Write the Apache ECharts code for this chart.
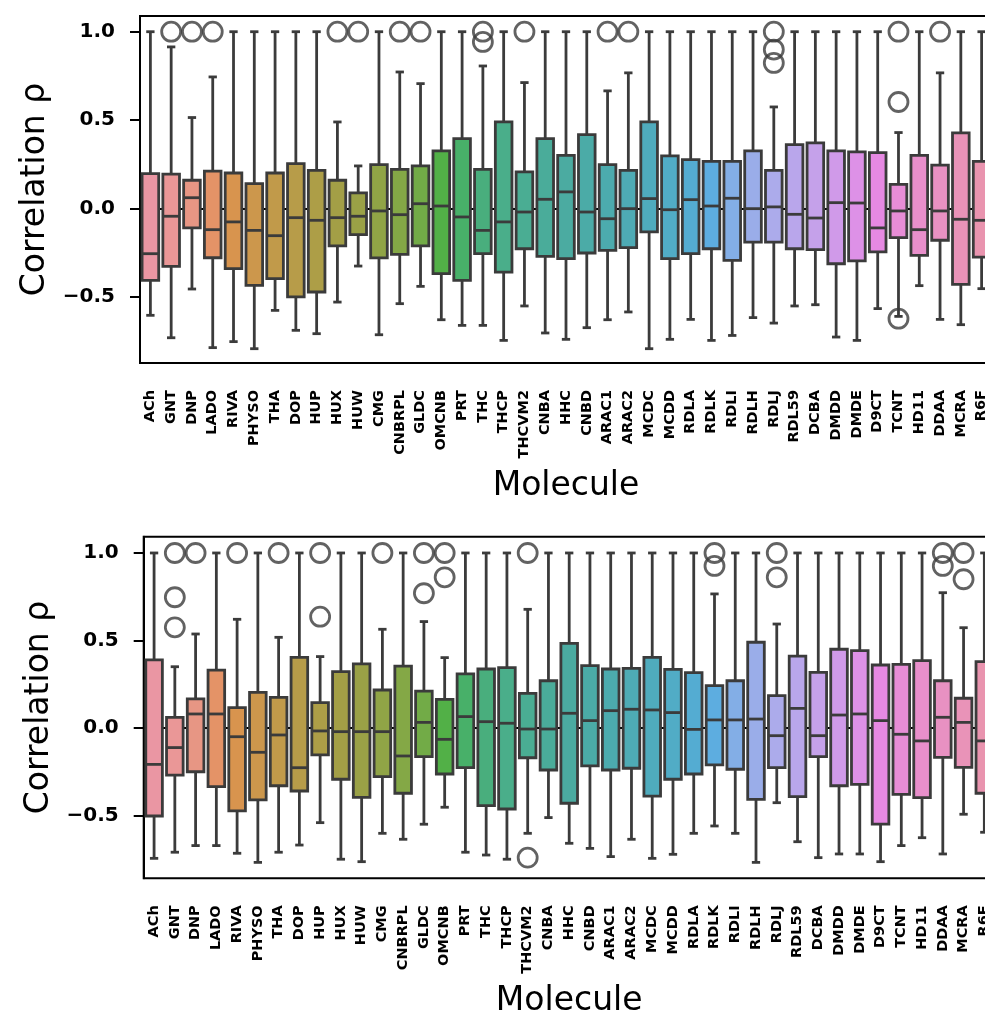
<!DOCTYPE html>
<html>
<head>
<meta charset="utf-8">
<script src="https://cdn.jsdelivr.net/npm/echarts@6/dist/echarts.min.js"></script>
<style>
  html, body { margin: 0; padding: 0; overflow: hidden; background: #fff; }
  #chart { width: 1000px; height: 1010px; }
</style>
</head>
<body>
<div id="chart"></div>
<script>
// categories (same order in both panels)
const molecules = ['ACh', 'GNT', 'DNP', 'LADO', 'RIVA', 'PHYSO', 'THA', 'DOP', 'HUP', 'HUX', 'HUW', 'CMG',
  'CNBRPL', 'GLDC', 'OMCNB', 'PRT', 'THC', 'THCP', 'THCVM2', 'CNBA', 'HHC', 'CNBD', 'ARAC1', 'ARAC2',
  'MCDC', 'MCDD', 'RDLA', 'RDLK', 'RDLI', 'RDLH', 'RDLJ', 'RDL59', 'DCBA', 'DMDD', 'DMDE', 'D9CT',
  'TCNT', 'HD11', 'DDAA', 'MCRA', 'R6F'];
const yTicks = [-0.5, 0.0, 0.5, 1.0];

// top panel: whisker low, Q1, median, Q3, whisker high, outliers
const topLow = [-0.606, -0.733, -0.457, -0.789, -0.755, -0.795, -0.578, -0.691, -0.710, -0.531, -0.327, -0.716, -0.540, -0.442, -0.631, -0.663, -0.663, -0.748, -0.553, -0.706, -0.742, -0.676, -0.631, -0.587, -0.795, -0.742, -0.629, -0.748, -0.720, -0.619, -0.650, -0.553, -0.546, -0.729, -0.748, -0.568, -0.612, -0.438, -0.629, -0.659, -0.455];
const topQ1 = [-0.408, -0.329, -0.111, -0.280, -0.342, -0.436, -0.398, -0.502, -0.474, -0.213, -0.149, -0.281, -0.261, -0.213, -0.370, -0.408, -0.257, -0.361, -0.229, -0.272, -0.285, -0.253, -0.238, -0.223, -0.134, -0.285, -0.257, -0.229, -0.295, -0.191, -0.191, -0.229, -0.234, -0.314, -0.298, -0.247, -0.166, -0.266, -0.181, -0.431, -0.276];
const topMed = [-0.257, -0.045, 0.060, -0.121, -0.077, -0.125, -0.155, -0.053, -0.068, -0.053, -0.045, -0.015, -0.036, 0.026, 0.013, -0.049, -0.125, -0.077, -0.021, 0.051, 0.093, -0.021, -0.059, -0.002, 0.055, -0.008, 0.049, 0.013, 0.057, -0.002, 0.008, -0.034, -0.055, 0.032, 0.030, -0.111, -0.015, -0.121, -0.015, -0.062, -0.068];
const topQ3 = [0.196, 0.193, 0.159, 0.210, 0.200, 0.140, 0.200, 0.253, 0.215, 0.159, 0.087, 0.247, 0.221, 0.240, 0.325, 0.395, 0.221, 0.489, 0.206, 0.395, 0.300, 0.417, 0.247, 0.215, 0.489, 0.297, 0.276, 0.266, 0.266, 0.325, 0.215, 0.361, 0.370, 0.325, 0.319, 0.315, 0.136, 0.300, 0.244, 0.427, 0.266];
const topHigh = [1.0, 0.914, 0.514, 0.744, 1.0, 1.0, 1.0, 1.0, 1.0, 0.489, 0.240, 1.0, 0.772, 0.706, 1.0, 1.0, 0.806, 1.0, 0.712, 1.0, 1.0, 1.0, 0.665, 0.767, 1.0, 1.0, 1.0, 1.0, 1.0, 1.0, 0.574, 1.0, 1.0, 1.0, 1.0, 1.0, 0.429, 1.0, 0.767, 1.0, 1.0];
const topFliers = [[], [1.0], [1.0], [1.0], [], [], [], [], [], [1.0], [1.0], [], [1.0], [1.0], [], [],
  [1.0, 0.942], [], [1.0], [], [], [], [1.0], [1.0], [], [], [], [], [], [], [1.0, 0.899, 0.823], [],
  [], [], [], [], [1.0, 0.602, -0.625], [], [1.0], [], []];

// bottom panel
const botLow = [-0.745, -0.710, -0.672, -0.672, -0.716, -0.768, -0.710, -0.669, -0.541, -0.750, -0.764, -0.602, -0.636, -0.550, -0.453, -0.710, -0.726, -0.750, -0.602, -0.512, -0.659, -0.688, -0.735, -0.636, -0.745, -0.722, -0.602, -0.560, -0.602, -0.768, -0.427, -0.650, -0.741, -0.720, -0.720, -0.764, -0.672, -0.627, -0.720, -0.493, -0.596];
const botQ1 = [-0.503, -0.269, -0.250, -0.335, -0.474, -0.411, -0.330, -0.360, -0.154, -0.293, -0.396, -0.278, -0.373, -0.164, -0.263, -0.227, -0.444, -0.463, -0.170, -0.240, -0.430, -0.217, -0.240, -0.230, -0.389, -0.293, -0.263, -0.211, -0.236, -0.408, -0.227, -0.392, -0.164, -0.330, -0.322, -0.549, -0.379, -0.398, -0.168, -0.225, -0.373];
const botMed = [-0.208, -0.112, 0.080, 0.080, -0.050, -0.139, -0.040, -0.227, -0.017, -0.021, -0.021, -0.021, -0.160, 0.032, -0.065, 0.065, 0.036, 0.027, -0.006, -0.006, 0.084, 0.042, 0.099, 0.107, 0.103, 0.088, -0.008, 0.046, 0.046, 0.051, -0.044, 0.112, -0.044, 0.074, 0.080, 0.042, -0.036, -0.074, 0.061, 0.032, -0.074];
const botQ3 = [0.389, 0.061, 0.166, 0.331, 0.116, 0.204, 0.175, 0.404, 0.145, 0.322, 0.366, 0.217, 0.354, 0.211, 0.164, 0.309, 0.337, 0.345, 0.198, 0.270, 0.484, 0.356, 0.337, 0.341, 0.404, 0.335, 0.316, 0.242, 0.270, 0.490, 0.185, 0.411, 0.318, 0.450, 0.442, 0.360, 0.364, 0.385, 0.270, 0.170, 0.379];
const botHigh = [1.0, 0.350, 0.537, 1.0, 0.621, 1.0, 0.518, 1.0, 0.408, 1.0, 1.0, 0.564, 1.0, 0.608, 0.402, 1.0, 1.0, 1.0, 0.678, 1.0, 1.0, 1.0, 1.0, 1.0, 1.0, 1.0, 1.0, 0.766, 1.0, 1.0, 0.594, 1.0, 1.0, 1.0, 1.0, 1.0, 1.0, 1.0, 0.773, 0.573, 1.0];
const botFliers = [[], [1.0, 0.747, 0.575], [1.0], [], [1.0], [], [1.0], [], [1.0, 0.636], [], [], [1.0], [],
  [1.0, 0.770], [1.0, 0.861], [], [], [], [1.0, -0.741], [], [], [], [], [], [], [], [], [1.0, 0.926], [],
  [], [1.0, 0.861], [], [], [], [], [], [], [], [1.0, 0.926], [1.0, 0.850], []];

// seaborn-like husl palette (l=.7), desaturated to 0.75
function huslToRgb(h, s, l) {
  const M = [[3.2406, -1.5372, -0.4986], [-0.9689, 1.8758, 0.0415], [0.0557, -0.2040, 1.0570]];
  const hrad = h * Math.PI / 180, sinH = Math.sin(hrad), cosH = Math.cos(hrad);
  const sub1 = Math.pow(l + 16, 3) / 1560896;
  const sub2 = sub1 > 0.008856 ? sub1 : l / 903.3;
  let maxC = Infinity;
  M.forEach(([m1, m2, m3]) => {
    const top = (0.99915 * m1 + 1.05122 * m2 + 1.14460 * m3) * sub2;
    const rb = 0.86330 * m3 - 0.17266 * m2;
    const lb = 0.12949 * m3 - 0.38848 * m1;
    const bottom = (rb * sinH + lb * cosH) * sub2;
    [0, 1].forEach(t => {
      const C = l * (top - 1.05122 * t) / (bottom + 0.17266 * sinH * t);
      if (C > 0 && C < maxC) maxC = C;
    });
  });
  const C = maxC / 100 * s;
  const U = Math.cos(hrad) * C, V = Math.sin(hrad) * C;
  const t = (l + 16) / 116;
  const Y = Math.pow(t, 3) > 0.008856 ? Math.pow(t, 3) : l / 903.3;
  const vu = U / (13 * l) + 0.19784, vv = V / (13 * l) + 0.46834;
  const X = -(9 * Y * vu) / ((vu - 4) * vv - vu * vv);
  const Z = (9 * Y - 15 * vv * Y - vv * X) / (3 * vv);
  return M.map(r => {
    const c = r[0] * X + r[1] * Y + r[2] * Z;
    const g = c <= 0.0031308 ? 12.92 * c : 1.055 * Math.pow(c, 1 / 2.4) - 0.055;
    return Math.min(1, Math.max(0, g));
  });
}
function desat(rgb, p) {
  const mid = (Math.max(...rgb) + Math.min(...rgb)) / 2;
  return rgb.map(c => mid + (c - mid) * p);
}
const n = molecules.length;
const rgbList = molecules.map((m, i) => desat(huslToRgb(((i / n + 0.01) % 1) * 359, 89.1, 69.3), 0.75));
const toHex = rgb => '#' + rgb.map(c => Math.round(c * 255).toString(16).padStart(2, '0')).join('');
const palette = rgbList.map(toHex);
const gray = '#3b3b3b';
const lineW = 2.8;

const font = 'DejaVu Sans';

function renderBox(params, api) {
  const i = api.value(0);
  const xc = api.coord([i, 0])[0];
  const w = api.size([1, 0])[0] * 0.8;
  const yLow = api.coord([i, api.value(1)])[1];
  const yQ1 = api.coord([i, api.value(2)])[1];
  const yMed = api.coord([i, api.value(3)])[1];
  const yQ3 = api.coord([i, api.value(4)])[1];
  const yHigh = api.coord([i, api.value(5)])[1];
  const ls = { stroke: gray, lineWidth: lineW };
  return {
    type: 'group',
    children: [
      { type: 'line', shape: { x1: xc, y1: yHigh, x2: xc, y2: yQ3 }, style: ls },
      { type: 'line', shape: { x1: xc, y1: yQ1, x2: xc, y2: yLow }, style: ls },
      { type: 'line', shape: { x1: xc - w / 4, y1: yHigh, x2: xc + w / 4, y2: yHigh }, style: ls },
      { type: 'line', shape: { x1: xc - w / 4, y1: yLow, x2: xc + w / 4, y2: yLow }, style: ls },
      { type: 'rect', shape: { x: xc - w / 2, y: yQ3, width: w, height: yQ1 - yQ3 },
        style: { fill: palette[i], stroke: gray, lineWidth: lineW } },
      { type: 'line', shape: { x1: xc - w / 2, y1: yMed, x2: xc + w / 2, y2: yMed }, style: ls }
    ]
  };
}

function boxRows(low, q1, med, q3, high) {
  return molecules.map((m, i) => [i, low[i], q1[i], med[i], q3[i], high[i]]);
}
function flierRows(fliers) {
  const out = [];
  fliers.forEach((list, i) => list.forEach(v => out.push([i, v])));
  return out;
}

function xAxisFor(gridIndex) {
  return {
    type: 'category',
    gridIndex: gridIndex,
    data: molecules,
    name: 'Molecule',
    nameLocation: 'middle',
    nameGap: 107,
    nameTextStyle: { fontFamily: font, fontSize: 33, color: '#000' },
    axisLine: { lineStyle: { color: '#000', width: 2 } },
    axisTick: { alignWithLabel: true, length: 9, lineStyle: { color: '#000', width: 2 } },
    axisLabel: { rotate: 90, interval: 0, margin: 27, fontFamily: font, fontWeight: 'bold', fontSize: 14.5, color: '#000' },
    splitLine: { show: false }
  };
}
function yAxisFor(gridIndex, min, max) {
  return {
    type: 'value',
    gridIndex: gridIndex,
    min: min,
    max: max,
    name: 'Correlation ρ',
    nameLocation: 'middle',
    nameGap: 88,
    nameTextStyle: { fontFamily: font, fontSize: 33, color: '#000' },
    axisLine: { show: true, lineStyle: { color: '#000', width: 2 } },
    axisTick: { show: true, length: 10, customValues: yTicks, lineStyle: { color: '#000', width: 2 } },
    axisLabel: {
      customValues: yTicks, margin: 25, fontFamily: font, fontWeight: 'bold', fontSize: 20, color: '#000',
      formatter: v => (v < 0 ? '\u2212' : '') + Math.abs(v).toFixed(1)
    },
    splitLine: { show: false }
  };
}

const myChart = echarts.init(document.getElementById('chart'));
const option = {
  animation: false,
  backgroundColor: '#fff',
  grid: [
    { left: 140, top: 16, width: 852, height: 347, containLabel: false, outerBoundsMode: 'none',
      show: true, borderColor: '#000', borderWidth: 2 },
    { left: 143.7, top: 536.7, width: 851, height: 341.6, containLabel: false, outerBoundsMode: 'none',
      show: true, borderColor: '#000', borderWidth: 2 }
  ],
  xAxis: [xAxisFor(0), xAxisFor(1)],
  yAxis: [yAxisFor(0, -0.876, 1.089), yAxisFor(1, -0.859, 1.093)],
  series: [
    { type: 'custom', xAxisIndex: 0, yAxisIndex: 0, renderItem: renderBox, encode: { x: 0, y: [1, 5] },
      data: boxRows(topLow, topQ1, topMed, topQ3, topHigh) },
    { type: 'scatter', xAxisIndex: 0, yAxisIndex: 0, symbol: 'circle', symbolSize: 19,
      itemStyle: { color: 'rgba(0,0,0,0)', borderColor: gray, borderWidth: lineW },
      data: flierRows(topFliers) },
    { type: 'custom', xAxisIndex: 1, yAxisIndex: 1, renderItem: renderBox, encode: { x: 0, y: [1, 5] },
      data: boxRows(botLow, botQ1, botMed, botQ3, botHigh) },
    { type: 'scatter', xAxisIndex: 1, yAxisIndex: 1, symbol: 'circle', symbolSize: 19,
      itemStyle: { color: 'rgba(0,0,0,0)', borderColor: gray, borderWidth: lineW },
      data: flierRows(botFliers) }
  ]
};
myChart.setOption(option);
</script>
</body>
</html>
